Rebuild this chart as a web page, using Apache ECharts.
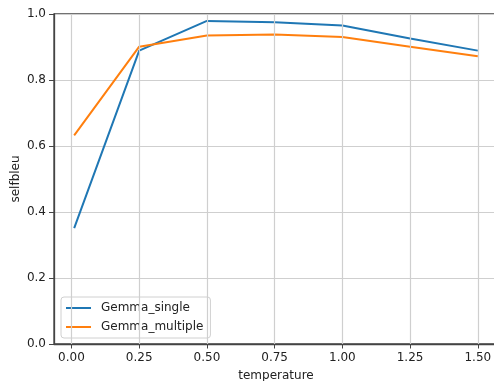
<!DOCTYPE html>
<html>
<head>
<meta charset="utf-8">
<script src="https://cdn.jsdelivr.net/npm/echarts@6/dist/echarts.min.js"></script>
<style>html,body{margin:0;padding:0;background:#fff}#c{width:494px;height:381px}</style>
</head>
<body>
<div id="c"></div>
<script>
const temperatures = [0.01, 0.25, 0.5, 0.75, 1.0, 1.25, 1.5];
const gemmaSingle = [0.351, 0.889, 0.979, 0.975, 0.965, 0.926, 0.889];
const gemmaMultiple = [0.632, 0.901, 0.935, 0.938, 0.930, 0.901, 0.872];
const xTicks = [0, 0.25, 0.5, 0.75, 1.0, 1.25, 1.5];
const yTicks = [0, 0.2, 0.4, 0.6, 0.8, 1.0];
const seriesNames = ['Gemma_single', 'Gemma_multiple'];

const font = 'DejaVu Sans';
const chart = echarts.init(document.getElementById('c'), null, {renderer: 'canvas'});
const pairs = arr => temperatures.map((t, i) => [t, arr[i]]);

chart.setOption({
  animation: false,
  backgroundColor: '#fff',
  textStyle: {fontFamily: font},
  grid: {left: 54, top: 14, width: 444, height: 330, outerBoundsMode: 'none', containLabel: false,
    show: true, borderColor: '#444', borderWidth: 1.3, backgroundColor: 'transparent'},
  legend: {
    left: 61, top: 297, orient: 'vertical',
    data: seriesNames,
    icon: 'rect', itemWidth: 25, itemHeight: 2, itemGap: 7,
    padding: [5, 7, 5, 5],
    backgroundColor: 'rgba(255,255,255,0.8)',
    borderColor: '#d0d0d0', borderWidth: 1, borderRadius: 3,
    textStyle: {fontFamily: font, fontSize: 12, color: '#222', padding: [0, 0, 0, 5]}
  },
  xAxis: {
    type: 'value', min: -0.0645, max: 1.5745,
    name: 'temperature', nameLocation: 'middle', nameGap: 26, nameMoveOverlap: false,
    nameTextStyle: {fontFamily: font, fontSize: 12, color: '#222'},
    axisLine: {show: true, onZero: false, lineStyle: {color: '#444', width: 1.3}},
    axisTick: {show: true, length: 4.5, customValues: xTicks, lineStyle: {color: '#444', width: 1}},
    axisLabel: {customValues: xTicks, fontFamily: font, fontSize: 12, color: '#222', margin: 8,
      formatter: v => v.toFixed(2)},
    splitLine: {show: false}
  },
  yAxis: {
    type: 'value', min: 0, max: 1.0, interval: 0.2,
    name: 'selfbleu', nameLocation: 'middle', nameGap: 32, nameRotate: 90, nameMoveOverlap: false,
    nameTextStyle: {fontFamily: font, fontSize: 12, color: '#222'},
    axisLine: {show: true, onZero: false, lineStyle: {color: '#444', width: 1.3}},
    axisTick: {show: true, length: 5, lineStyle: {color: '#444', width: 1}},
    axisLabel: {fontFamily: font, fontSize: 12, color: '#222', margin: 8,
      formatter: v => v.toFixed(1)},
    splitLine: {show: true, lineStyle: {color: '#cfcfcf', width: 1.2}}
  },
  series: [
    {
      type: 'line', name: '_grid', z: 1, silent: true, data: [],
      markLine: {
        silent: true, symbol: 'none', animation: false,
        label: {show: false},
        lineStyle: {color: '#cfcfcf', width: 1.2, type: 'solid'},
        emphasis: {disabled: true},
        data: xTicks.map(v => ({xAxis: v}))
      }
    },
    {
      type: 'line', name: seriesNames[0], z: 3, data: pairs(gemmaSingle),
      showSymbol: false, symbol: 'none', color: '#1f77b4',
      lineStyle: {color: '#1f77b4', width: 2}
    },
    {
      type: 'line', name: seriesNames[1], z: 3, data: pairs(gemmaMultiple),
      showSymbol: false, symbol: 'none', color: '#ff7f0e',
      lineStyle: {color: '#ff7f0e', width: 2}
    }
  ]
});
</script>
</body>
</html>
